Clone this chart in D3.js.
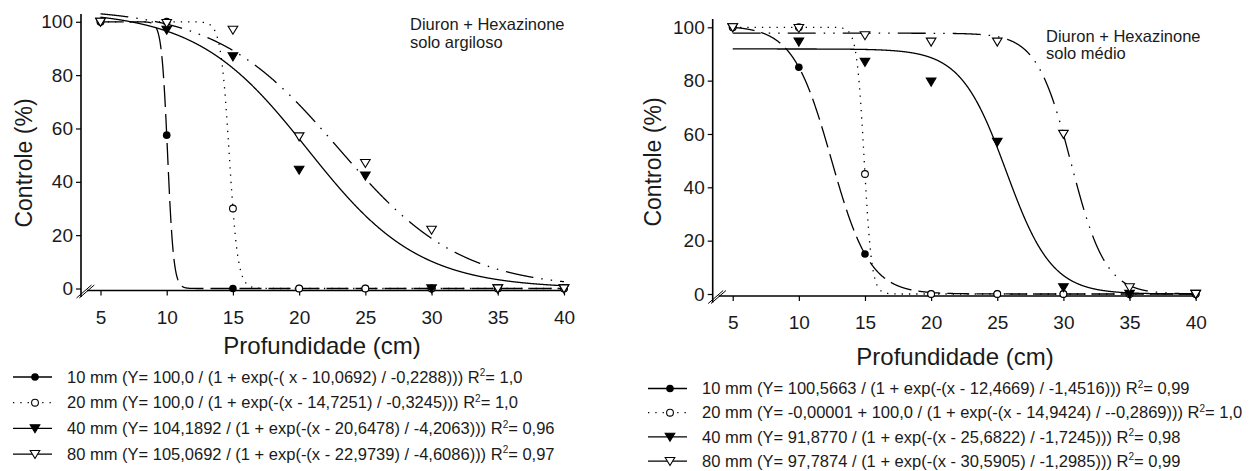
<!DOCTYPE html>
<html>
<head>
<meta charset="utf-8">
<script src="https://cdn.jsdelivr.net/npm/d3@7"></script>
<style>
body { margin: 0; background: #fff; }
svg { display: block; font-family: "Liberation Sans", Arial, sans-serif; }
</style>
</head>
<body>
<svg width="1259" height="471"></svg>
<script>
// depths (cm) and doses
var depths = [5, 10, 15, 20, 25, 30, 35, 40];
var doses = ["10 mm", "20 mm", "40 mm", "80 mm"];

// solo argiloso - observed control (%)
var arg10 = [100, 57.5, 0, 0, 0, 0, 0, 0];
var arg20 = [100, 100, 30, 0, 0, 0, 0, 0];
var arg40 = [100, 97, 87, 44.5, 42.3, 0, 0, 0];
var arg80 = [100, 99.5, 97, 57, 47, 22, 0, 0];

// solo argiloso - fitted sigmoid  Y = y0 + a / (1 + exp(-(x - x0) / b))
var argY0 = [0, 0, 0, 0];
var argA = [100.0, 100.0, 104.1892, 105.0692];
var argX0 = [10.0692, 14.7251, 20.6478, 22.9739];
var argB = [-0.2288, -0.3245, -4.2063, -4.6086];
var argEq = [
    "(Y= 100,0 / (1 + exp(-( x - 10,0692) / -0,2288)))",
    "(Y= 100,0 / (1 + exp(-(x - 14,7251) / -0,3245)))",
    "(Y= 104,1892 / (1 + exp(-(x - 20,6478) / -4,2063)))",
    "(Y= 105,0692 / (1 + exp(-(x - 22,9739) / -4,6086)))"
];
var argR2 = ["1,0", "1,0", "0,96", "0,97"];

// solo medio - observed control (%)
var med10 = [100, 85, 15, 0, 0, 0, 0, 0];
var med20 = [100, 100, 45, 0, 0, 0, 0, 0];
var med40 = [100, 94.6, 87, 79.6, 57, 2.5, 0, 0];
var med80 = [100, 99.7, 97, 94.6, 94.6, 60, 2.5, 0];

// solo medio - fitted sigmoid
var medY0 = [0, -0.00001, 0, 0];
var medA = [100.5663, 100.0, 91.8770, 97.7874];
var medX0 = [12.4669, 14.9424, 25.6822, 30.5905];
var medB = [-1.4516, -0.2869, -1.7245, -1.2985];
var medEq = [
    "(Y= 100,5663 / (1 + exp(-(x - 12,4669) / -1,4516)))",
    "(Y= -0,00001 + 100,0 / (1 + exp(-(x - 14,9424) / --0,2869)))",
    "(Y= 91,8770 / (1 + exp(-(x - 25,6822) / -1,7245)))",
    "(Y= 97,7874 / (1 + exp(-(x - 30,5905) / -1,2985)))"
];
var medR2 = ["0,99", "1,0", "0,98", "0,99"];

var yTicks = [0, 20, 40, 60, 80, 100];
var xTicks = [5, 10, 15, 20, 25, 30, 35, 40];

// line & marker style per dose
var dashes = ["22,7", "1.3,6", null, "28,8,1.5,8,1.5,8"];
var legendDashes = [null, "1.3,6", null, null];
var markers = ["circleFilled", "circleOpen", "triFilled", "triOpen"];

var svg = d3.select("svg");

function drawMarker(g, type, cx, cy) {
    if (type == "circleFilled") {
        g.append("circle").attr("cx", cx).attr("cy", cy).attr("r", 3.8)
            .attr("fill", "#000");
    } else if (type == "circleOpen") {
        g.append("circle").attr("cx", cx).attr("cy", cy).attr("r", 3.4)
            .attr("fill", "#fff").attr("stroke", "#000").attr("stroke-width", 1.1);
    } else {
        g.append("path")
            .attr("d", "M-4.8,-3.6L4.8,-3.6L0,4.4Z")
            .attr("transform", "translate(" + cx + "," + cy + ")")
            .attr("fill", type == "triFilled" ? "#000" : "#fff")
            .attr("stroke", "#000").attr("stroke-width", 1.1);
    }
}

function drawPanel(p) {
    var x = d3.scaleLinear().domain([5, 40]).range([p.xl, p.xr]);
    var y = d3.scaleLinear().domain([0, 100]).range([p.yb, p.yt]);
    var g = svg.append("g");
    var axisY = y(-0.75);

    // axes
    var ya = g.append("g").attr("transform", "translate(" + p.ax + ",0)")
        .call(d3.axisLeft(y).tickValues(yTicks).tickSize(5).tickPadding(3));
    var xa = g.append("g").attr("transform", "translate(0," + axisY + ")")
        .call(d3.axisBottom(x).tickValues(xTicks).tickSize(5).tickPadding(15));
    [ya, xa].forEach(function (a) {
        a.select(".domain").remove();
        a.selectAll("line").attr("stroke", "#000").attr("stroke-width", 1.2);
        a.selectAll("text").attr("font-size", 19).attr("font-family", null).attr("fill", "#1a1a1a");
    });

    g.append("line").attr("x1", p.ax).attr("x2", p.ax)
        .attr("y1", p.atop).attr("y2", axisY + 6.5)
        .attr("stroke", "#000").attr("stroke-width", 1.6);
    g.append("line").attr("x1", p.ax + 6).attr("x2", x(40.2))
        .attr("y1", axisY).attr("y2", axisY)
        .attr("stroke", "#000").attr("stroke-width", 1.6);
    // axis break marks
    [0, 2.8].forEach(function (o) {
        g.append("line")
            .attr("x1", p.ax - 4.5 + o).attr("y1", axisY + 7.5)
            .attr("x2", p.ax + 10.5 + o).attr("y2", axisY - 5.5)
            .attr("stroke", "#000").attr("stroke-width", 1);
    });

    // fitted curves
    var xs = d3.range(5, 40.001, 0.02);
    var line = d3.line().x(function (d) { return x(d[0]); }).y(function (d) { return y(d[1]); });
    doses.forEach(function (dose, i) {
        var pts = xs.map(function (v) {
            return [v, p.y0[i] + p.a[i] / (1 + Math.exp(-(v - p.x0[i]) / p.b[i]))];
        });
        g.append("path").datum(pts).attr("d", line)
            .attr("fill", "none").attr("stroke", "#000").attr("stroke-width", 1.3)
            .attr("stroke-dasharray", dashes[i]);
    });

    // observed points
    p.obs.forEach(function (vals, i) {
        vals.forEach(function (v, j) {
            drawMarker(g, markers[i], x(depths[j]), y(v));
        });
    });

    // annotation
    var ann = g.append("text").attr("font-size", 16.5).attr("fill", "#1a1a1a");
    ann.append("tspan").attr("x", p.annX).attr("y", p.annY).text("Diuron + Hexazinone");
    ann.append("tspan").attr("x", p.annX).attr("y", p.annY + 17.5).text(p.soil);

    // axis titles
    g.append("text").attr("font-size", 23).attr("fill", "#1a1a1a")
        .attr("text-anchor", "middle")
        .attr("transform", "translate(" + p.ytX + "," + p.ytY + ") rotate(-90)")
        .attr("dy", "0.35em")
        .text("Controle (%)");
    g.append("text").attr("font-size", 24).attr("fill", "#1a1a1a")
        .attr("text-anchor", "middle")
        .attr("x", p.xtX).attr("y", p.xtY).attr("dy", "0.35em")
        .text("Profundidade (cm)");

    // legend
    doses.forEach(function (dose, i) {
        var ly = p.legY + i * p.legStep;
        var lg = g.append("g");
        lg.append("line").attr("x1", p.legX).attr("x2", p.legX + 39)
            .attr("y1", ly).attr("y2", ly)
            .attr("stroke", "#000").attr("stroke-width", 1.3)
            .attr("stroke-dasharray", legendDashes[i]);
        drawMarker(lg, markers[i], p.legX + 22, ly);
        var t = lg.append("text").attr("x", p.legX + 54).attr("y", ly).attr("dy", "0.35em")
            .attr("font-size", 16.5).attr("fill", "#1a1a1a");
        t.append("tspan").text(dose + " " + p.eq[i] + " R");
        t.append("tspan").attr("font-size", 10).attr("dy", -6.5).text("2");
        t.append("tspan").attr("dy", 6.5).text("= " + p.r2[i]);
    });
}

drawPanel({
    xl: 100.5, xr: 564, yb: 288.5, yt: 21.8, ax: 81, atop: 14,
    y0: argY0, a: argA, x0: argX0, b: argB,
    obs: [arg10, arg20, arg40, arg80],
    annX: 410, annY: 30, soil: "solo argiloso",
    ytX: 24, ytY: 163, xtX: 322, xtY: 346,
    eq: argEq, r2: argR2, legX: 13, legY: 377, legStep: 25.7
});

drawPanel({
    xl: 732.7, xr: 1195.7, yb: 294, yt: 27.3, ax: 712.7, atop: 19,
    y0: medY0, a: medA, x0: medX0, b: medB,
    obs: [med10, med20, med40, med80],
    annX: 1046, annY: 41.5, soil: "solo médio",
    ytX: 652.5, ytY: 162, xtX: 955, xtY: 357,
    eq: medEq, r2: medR2, legX: 648, legY: 388.5, legStep: 24.2
});
</script>
</body>
</html>
